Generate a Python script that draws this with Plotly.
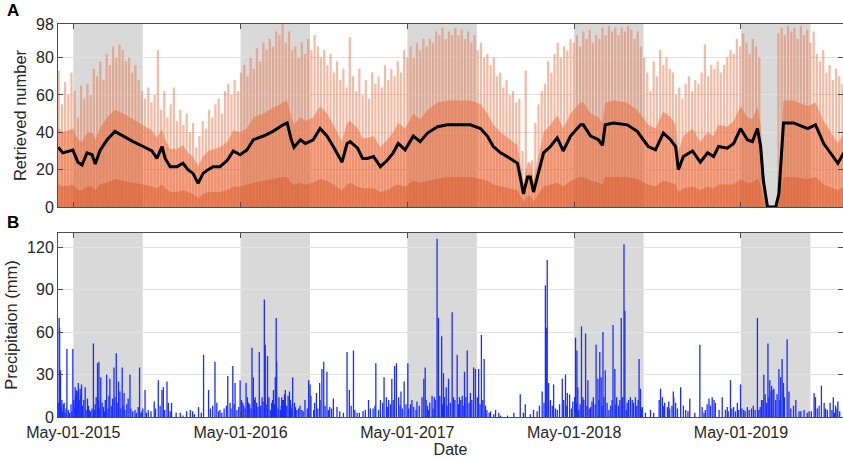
import pandas as pd
import plotly.graph_objects as go

BASE = pd.Timestamp("2015-05-01")

# ---------------- Panel A data ----------------
# weekly spike maxima of retrieved number (one per week starting 2015-03-30)
spike_start = "2015-03-30"
spike_max = [
    73, 55, 67, 60, 72, 62, 48, 65, 58, 66,
    60, 74, 70, 78, 68, 82, 76, 86, 80, 87,
    84, 78, 80, 72, 76, 68, 62, 58, 64, 56,
    60, 84, 52, 62, 48, 55, 64, 46, 52, 44,
    50, 40, 45, 32, 38, 46, 42, 52, 48, 55,
    58, 50, 62, 66, 60, 68, 62, 72, 76, 70,
    80, 74, 85, 78, 88, 84, 90, 86, 94, 92,
    98, 88, 94, 84, 86, 80, 88, 82, 90, 84,
    92, 86, 80, 84, 76, 82, 72, 78, 68, 74,
    64, 91, 70, 62, 74, 60, 68, 58, 72, 66,
    70, 64, 76, 68, 74, 70, 78, 72, 84, 80,
    86, 80, 88, 84, 90, 86, 90, 88, 94, 92,
    96, 90, 94, 92, 96, 92, 95, 90, 94, 88,
    92, 84, 88, 80, 82, 76, 80, 70, 72, 64,
    68, 60, 62, 56, 58, 30, 73, 18, 25, 45,
    55, 62, 66, 78, 72, 82, 88, 80, 86, 84,
    90, 88, 92, 86, 94, 90, 95, 88, 92, 90,
    96, 92, 97, 94, 96, 92, 96, 94, 97, 95,
    90, 94, 86, 80, 72, 62, 78, 70, 84, 76,
    80, 74, 72, 60, 64, 58, 66, 70, 62, 68,
    66, 72, 87, 70, 76, 74, 78, 72, 76, 80,
    84, 82, 90, 86, 93, 88, 82, 90, 86, 80,
    None, None, None, None, None, 93, 96, 92, 97, 94,
    96, 90, 97, 92, 95, 88, 94, 82, 78, 84,
    72, 76, 68, 74, 70, 66,
]

# days after 2015-05-01 for the average line and the band levels
line_day = [
    -33, -23, -1, 10, 19, 30, 41, 48, 58, 74,
    91, 109, 131, 153, 172, 183, 194, 201, 212, 227,
    240, 251, 262, 273, 284, 295, 306, 321, 337, 350,
    365, 380, 394, 416, 437, 459, 468, 477, 483, 497,
    508, 525, 540, 555, 569, 588, 599, 606, 622, 633,
    643, 657, 672, 687, 700, 711, 726, 744, 759, 775,
    797, 819, 847, 869, 891, 906, 919, 935, 956, 972,
    978, 985, 994, 1000, 1007, 1016, 1029, 1044, 1059, 1072,
    1088, 1110, 1116, 1132, 1149, 1158, 1164, 1182, 1212, 1234,
    1258, 1274, 1291, 1307, 1318, 1324, 1335, 1355, 1372, 1388,
    1401, 1412, 1431, 1445, 1460, 1475, 1486, 1497, 1504, 1510,
    1519, 1537, 1544, 1554, 1576, 1607, 1624, 1642, 1662, 1673,
    1686,
]
line_avg = [
    32, 29, 30.5, 24, 22.5, 29, 28, 23, 30, 36,
    40.5, 38, 35, 32.4, 30, 26, 32.4, 26, 21.6, 21.6,
    23.4, 20, 18, 12.6, 18, 20, 21.6, 21.6, 25, 30,
    28, 30.5, 36, 38, 40.5, 44, 45, 36, 32, 36,
    34, 36, 42, 38, 32.4, 24, 34, 35, 31.5, 26,
    26, 27, 21.6, 25, 29, 34, 30.6, 38, 35, 39.6,
    43, 44, 44, 44, 42, 38, 32.4, 29, 26, 23.4,
    16, 7, 16, 16, 8, 16, 29, 32.4, 37, 30,
    38, 44, 44, 38, 36, 33, 44, 45, 44, 40.5,
    32.4, 30.6, 39.6, 36, 32.4, 20, 27, 30, 24, 29,
    27, 32.4, 31.5, 34, 42, 36, 35, 42, 32.4, 14,
    0, 0, 7, 45, 45, 42, 44, 34, 27, 23.4,
    29,
]
mid_level = [
    42, 40, 42, 36, 35, 40, 40, 36, 42, 48,
    52, 50, 47, 44, 41, 37, 42, 36, 31, 31,
    33, 29, 27, 22, 27, 30, 31, 32, 35, 41,
    40, 42, 48, 50, 53, 56, 57, 48, 44, 48,
    46, 48, 54, 50, 44, 35, 45, 46, 42, 37,
    37, 38, 32, 36, 40, 45, 42, 50, 47, 52,
    56, 57, 57, 57, 55, 50, 44, 40, 36, 33,
    24, 12, 24, 24, 14, 24, 40, 44, 49, 42,
    50, 56, 56, 50, 48, 45, 56, 57, 56, 52,
    44, 42, 51, 48, 44, 30, 38, 42, 35, 40,
    38, 44, 43, 46, 54, 48, 47, 54, 44, 22,
    0, 0, 12, 57, 57, 54, 56, 46, 38, 34,
    40,
]
dark_level = [
    12, 11, 12, 9, 9, 11, 11, 9, 12, 13,
    15, 14, 13, 12, 11, 10, 12, 10, 8, 8,
    9, 8, 7, 5, 7, 8, 8, 8, 9, 11,
    11, 12, 13, 14, 15, 16, 16, 13, 12, 13,
    12, 13, 15, 14, 12, 9, 12, 13, 11, 10,
    10, 10, 8, 9, 11, 12, 11, 14, 13, 14,
    15, 16, 16, 16, 15, 14, 12, 11, 10, 9,
    6, 3, 6, 6, 3, 6, 11, 12, 13, 11,
    14, 16, 16, 14, 13, 12, 16, 16, 16, 15,
    12, 11, 14, 13, 12, 8, 10, 11, 9, 11,
    10, 12, 12, 12, 15, 13, 13, 15, 12, 5,
    0, 0, 3, 16, 16, 15, 16, 12, 10, 9,
    11,
]

# ---------------- Panel B data ----------------
rain_day = [
    -31, -30, -28, -25, -20, -14, -11, -1, 2, 4, 7, 11, 15, 18, 26, 31, 35, 44, 50, 53,
    56, 60, 66, 73, 80, 86, 89, 94, 99, 102, 107, 111, 120, 124, 135, 145, 150, 157, 164, 177,
    186, 194, 197, 205, 208, 215, 234, 248, 256, 261, 274, 285, 296, 310, 314, 321, 325, 338, 343, 349,
    354, 358, 365, 371, 378, 383, 391, 394, 398, 407, 413, 418, 420, 425, 431, 434, 438, 442, 444, 445,
    453, 456, 460, 464, 473, 475, 480, 489, 493, 500, 515, 518, 526, 532, 539, 544, 548, 555, 561, 569,
    577, 599, 604, 613, 621, 639, 646, 656, 662, 668, 672, 680, 685, 690, 697, 703, 707, 712, 717, 724,
    732, 741, 752, 763, 767, 770, 777, 785, 790, 796, 799, 806, 810, 816, 821, 829, 832, 840, 845, 851,
    856, 862, 869, 876, 880, 887, 893, 899, 905, 913, 924, 931, 964, 978, 989, 1007, 1026, 1033, 1035, 1037,
    1040, 1044, 1051, 1059, 1070, 1077, 1081, 1086, 1093, 1099, 1102, 1104, 1106, 1112, 1115, 1121, 1126, 1132, 1135, 1144,
    1148, 1152, 1155, 1159, 1164, 1172, 1181, 1185, 1189, 1199, 1205, 1207, 1212, 1219, 1223, 1230, 1238, 1241, 1245, 1263,
    1285, 1289, 1294, 1300, 1303, 1313, 1314, 1318, 1329, 1340, 1349, 1371, 1376, 1383, 1391, 1398, 1402, 1420, 1427, 1431,
    1438, 1445, 1453, 1460, 1467, 1475, 1488, 1497, 1500, 1509, 1511, 1520, 1524, 1527, 1531, 1537, 1544, 1548, 1551, 1554,
    1562, 1566, 1581, 1588, 1599, 1610, 1621, 1624, 1637, 1643, 1650, 1656, 1663, 1668, 1673, 1677,
]
rain_mm = [
    70, 63, 33, 12, 10, 48, 5, 48, 7, 21, 19, 24, 20, 23, 21, 13, 5, 52, 14, 38,
    39, 28, 7, 30, 27, 13, 35, 45, 25, 18, 35, 17, 13, 30, 5, 35, 4, 19, 5, 11,
    26, 19, 21, 25, 10, 10, 3, 4, 5, 4, 7, 44, 19, 39, 10, 5, 3, 29, 10, 36,
    24, 5, 26, 10, 24, 10, 49, 28, 14, 46, 14, 83, 51, 43, 5, 10, 19, 28, 70, 39,
    5, 14, 12, 19, 18, 12, 28, 5, 6, 5, 26, 23, 5, 17, 24, 34, 39, 32, 7, 13,
    7, 46, 19, 47, 3, 5, 12, 6, 38, 5, 12, 28, 14, 12, 27, 36, 38, 14, 18, 25,
    38, 12, 11, 14, 27, 35, 5, 15, 14, 126, 70, 57, 31, 21, 27, 74, 14, 44, 14, 15,
    32, 47, 17, 35, 34, 34, 58, 41, 5, 4, 5, 3, 3, 16, 9, 5, 18, 93, 63, 111,
    24, 12, 23, 5, 27, 30, 17, 16, 11, 56, 47, 21, 5, 64, 14, 59, 26, 7, 11, 51,
    27, 46, 28, 60, 33, 5, 65, 34, 14, 70, 122, 75, 10, 14, 12, 14, 41, 20, 7, 5,
    20, 14, 10, 7, 11, 18, 14, 10, 21, 5, 13, 51, 7, 5, 13, 14, 12, 14, 5, 7,
    26, 7, 10, 23, 5, 7, 8, 70, 5, 12, 30, 52, 26, 18, 19, 12, 34, 28, 41, 24,
    55, 18, 12, 4, 5, 4, 17, 14, 22, 10, 5, 10, 14, 8, 11, 4,
]
# many small daily totals (read approximately)
drizzle_day = [
    -33, -27, -24, -22, -18, -16, -8, -5, -3,
    1, 5, 8, 10, 13, 17, 20, 23, 28, 33, 38, 41, 46, 48, 55, 58, 63, 68, 70, 76, 78,
    83, 91, 96, 104, 109, 113, 117, 126, 130, 138, 142, 148, 152,
    160, 170, 180, 190, 200, 212, 225, 240, 265, 280, 300, 305, 318, 330, 335, 345, 352, 362,
    368, 373, 376, 381, 386, 389, 396, 401, 404, 410, 415, 422, 428, 436, 440, 448, 450, 455,
    458, 462, 467, 470, 476, 478, 484, 486, 496, 503, 507, 512, 520,
    528, 535, 540, 551, 558, 565, 583, 591, 608, 616, 626, 634, 650, 660, 677, 688, 694, 700,
    715, 720, 728,
    734, 738, 745, 750, 757, 772, 775, 780, 787, 792, 802, 808, 812, 818, 825, 835, 843, 848,
    853, 859, 866, 872, 884, 890, 896, 902,
    910, 920, 935, 950, 985, 1000, 1015, 1020, 1030, 1048, 1055, 1064, 1073, 1080, 1090,
    1097, 1101, 1109, 1117, 1124, 1129, 1138, 1142, 1150, 1157, 1161, 1168, 1176, 1179, 1187,
    1193, 1196, 1202, 1210, 1215, 1226, 1233, 1236, 1243,
    1252, 1270, 1282, 1292, 1305, 1310, 1322, 1335, 1345, 1360, 1380, 1387, 1394, 1405, 1413,
    1433, 1441, 1449, 1456,
    1463, 1470, 1479, 1484, 1492, 1503, 1506, 1514, 1517, 1522, 1528, 1533, 1540, 1546, 1556,
    1570, 1576, 1592, 1606,
    1615, 1628, 1632, 1646, 1660, 1666, 1671,
]
drizzle_mm = [
    10, 8, 4, 9, 3, 6, 3, 9, 4,
    12, 15, 10, 18, 12, 16, 8, 12, 5, 8, 4, 6, 5, 9, 12, 6, 10, 4, 12, 6, 15,
    8, 14, 10, 6, 8, 5, 9, 6, 4, 3, 7, 3, 6,
    3, 4, 6, 8, 5, 4, 3, 1, 2, 3, 6, 8, 4, 6, 8, 6, 9, 7,
    12, 8, 6, 14, 9, 6, 12, 10, 7, 8, 11, 9, 14, 12, 9, 6, 14, 8,
    12, 16, 8, 15, 9, 6, 10, 7, 8, 4, 12, 6, 15,
    10, 6, 12, 8, 5, 6, 4, 3, 8, 5, 3, 4, 6, 8, 10, 7, 9, 12,
    8, 6, 9,
    6, 9, 7, 5, 8, 12, 8, 10, 6, 12, 15, 9, 14, 8, 10, 12, 9, 12,
    8, 14, 10, 12, 14, 9, 12, 8,
    3, 2, 1, 1, 3, 2, 4, 8, 10, 8, 6, 9, 12, 8, 6,
    14, 10, 9, 12, 8, 6, 14, 9, 12, 8, 14, 10, 8, 12, 9,
    8, 12, 14, 5, 12, 10, 8, 12, 6,
    3, 3, 12, 8, 6, 8, 6, 8, 4, 3, 3, 9, 8, 10, 5,
    4, 6, 4, 5,
    6, 4, 5, 6, 5, 7, 12, 16, 10, 14, 22, 20, 16, 12, 14,
    6, 8, 4, 3,
    4, 6, 8, 6, 5, 3, 6,
]

season_start = ["2015-05-01", "2016-05-01", "2017-05-01", "2018-05-01", "2019-05-01"]
season_end = ["2015-09-30", "2016-09-30", "2017-09-30", "2018-09-30", "2019-09-30"]
tick_dates = ["2015-05-01", "2016-05-01", "2017-05-01", "2018-05-01", "2019-05-01"]
tick_text = ["May-01-2015", "May-01-2016", "May-01-2017", "May-01-2018", "May-01-2019"]
x_range = ["2015-03-28 12:00", "2019-12-10 06:00"]

assert len(line_day) == len(line_avg) == len(mid_level) == len(dark_level)
assert len(rain_day) == len(rain_mm)
assert len(drizzle_day) == len(drizzle_mm)


def to_dates(days):
    return [BASE + pd.Timedelta(days=d) for d in days]


def stems(xs, ys):
    X, Y = [], []
    for x, y in zip(xs, ys):
        if y is None:
            continue
        X += [x, x, None]
        Y += [0, y, None]
    return X, Y


spike_dates = list(pd.date_range(spike_start, periods=len(spike_max), freq="7D"))
line_dates = to_dates(line_day)

fig = go.Figure()

# Panel A
fig.add_trace(go.Scatter(x=line_dates, y=mid_level, mode="lines", fill="tozeroy",
                         line=dict(width=0, color="rgba(0,0,0,0)"),
                         fillcolor="rgba(230,95,45,0.5)", hoverinfo="skip",
                         xaxis="x", yaxis="y", showlegend=False))
sx, sy = stems(spike_dates, spike_max)
fig.add_trace(go.Scatter(x=sx, y=sy, mode="lines",
                         line=dict(width=2.2, color="rgba(238,118,72,0.5)"),
                         hoverinfo="skip", xaxis="x", yaxis="y", showlegend=False))
fig.add_trace(go.Scatter(x=line_dates, y=dark_level, mode="lines", fill="tozeroy",
                         line=dict(width=0, color="rgba(0,0,0,0)"),
                         fillcolor="rgba(215,75,25,0.4)", hoverinfo="skip",
                         xaxis="x", yaxis="y", showlegend=False))
fig.add_trace(go.Scatter(x=line_dates, y=line_avg, mode="lines",
                         line=dict(width=3, color="black"),
                         xaxis="x", yaxis="y", showlegend=False))

# Panel B
rx, ry = stems(to_dates(drizzle_day) + to_dates(rain_day), drizzle_mm + rain_mm)
fig.add_trace(go.Scatter(x=rx, y=ry, mode="lines",
                         line=dict(width=1.3, color="rgb(25,45,255)"),
                         xaxis="x2", yaxis="y2", showlegend=False))

shapes = []
for s, e in zip(season_start, season_end):
    for xr, yr in (("x", "y domain"), ("x2", "y2 domain")):
        shapes.append(dict(type="rect", xref=xr, yref=yr, x0=s, x1=e, y0=0, y1=1,
                           fillcolor="#d9d9d9", line=dict(width=0), layer="below"))

axis_col = "#4d4d4d"
font = dict(family="Liberation Sans, Arial, sans-serif", size=16, color="#262626")
title_font = dict(family="Liberation Sans, Arial, sans-serif", size=16.5, color="#262626")

common_x = dict(type="date", range=x_range, tickvals=tick_dates, ticks="inside",
                ticklen=5, tickcolor=axis_col, showline=True, linecolor=axis_col,
                linewidth=1, mirror="allticks", showgrid=False, zeroline=False)
common_y = dict(ticks="inside", ticklen=5, tickcolor=axis_col, showline=True,
                linecolor=axis_col, linewidth=1, mirror="allticks", showgrid=True,
                gridcolor="#e2e2e2", gridwidth=1, zeroline=False)

fig.update_layout(
    width=843, height=458,
    margin=dict(l=58, r=0, t=24, b=41, autoexpand=False),
    paper_bgcolor="white", plot_bgcolor="white",
    font=font, shapes=shapes,
    xaxis=dict(common_x, domain=[0, 1], anchor="y", showticklabels=False),
    yaxis=dict(common_y, domain=[0.5344, 1], anchor="x", range=[0, 98],
               tickvals=[0, 20, 40, 60, 80, 98],
               title=dict(text="Retrieved number", standoff=5, font=title_font)),
    xaxis2=dict(common_x, domain=[0, 1], anchor="y2", ticktext=tick_text,
                ticklabelstandoff=1,
                title=dict(text="Date", standoff=3,
                           font=dict(title_font, size=16))),
    yaxis2=dict(common_y, domain=[0, 0.4682], anchor="x2", range=[0, 130],
                tickvals=[0, 30, 60, 90, 120],
                title=dict(text="Precipitaion (mm)", standoff=5, font=title_font)),
    annotations=[
        dict(text="<b>A</b>", xref="paper", yref="paper", x=-0.0573, y=1.0356,
             showarrow=False, xanchor="center", yanchor="middle",
             font=dict(family="Liberation Sans, Arial", size=17, color="black")),
        dict(text="<b>B</b>", xref="paper", yref="paper", x=-0.0573, y=0.496,
             showarrow=False, xanchor="center", yanchor="middle",
             font=dict(family="Liberation Sans, Arial", size=17, color="black")),
    ],
)

fig.write_html("out.html")
